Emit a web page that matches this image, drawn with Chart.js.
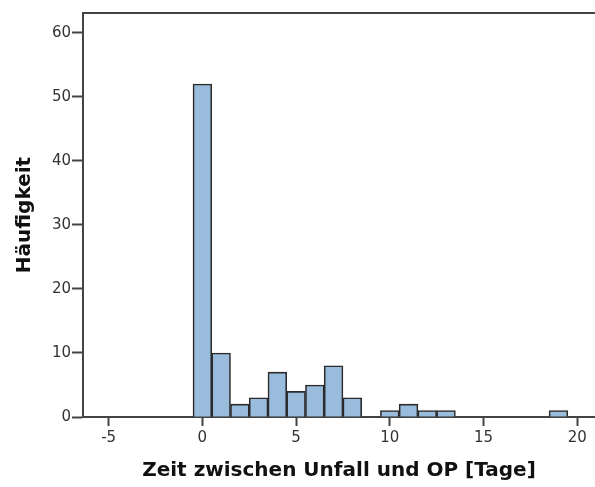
<!DOCTYPE html>
<html>
<head>
<meta charset="utf-8">
<script src="https://cdn.jsdelivr.net/npm/chart.js@4/dist/chart.umd.min.js"></script>
<style>
html,body{margin:0;padding:0;background:#fff;}
#wrap{width:595px;height:487px;}
</style>
</head>
<body>
<div id="wrap"><canvas id="c" width="595" height="487"></canvas></div>
<script>
// Data (bins of width 1 centred on whole days)
const binCentres = [0, 1, 2, 3, 4, 5, 6, 7, 8, 10, 11, 12, 13, 19];
const counts     = [52, 10, 2, 3, 7, 4, 5, 8, 3, 1, 2, 1, 1, 1];
const xTickValues = [-5, 0, 5, 10, 15, 20];
const yTickValues = [0, 10, 20, 30, 40, 50, 60];
const xAxisTitle = 'Zeit zwischen Unfall und OP [Tage]';
const yAxisTitle = 'Häufigkeit';

const points = binCentres.map((x, i) => ({x: x, y: counts[i]}));

const framePlugin = {
  id: 'frame',
  afterDraw(chart) {
    const a = chart.chartArea, ctx = chart.ctx;
    ctx.save();
    ctx.strokeStyle = '#444';
    ctx.lineWidth = 2;
    ctx.beginPath();
    ctx.moveTo(a.left, a.top);
    ctx.lineTo(a.right, a.top);
    ctx.stroke();
    ctx.restore();
  }
};

new Chart(document.getElementById('c'), {
  type: 'bar',
  data: {
    datasets: [{
      data: points,
      backgroundColor: '#99bcdd',
      borderColor: '#2a2a2a',
      borderWidth: 1.6,
      borderSkipped: 'bottom',
      barPercentage: 1,
      categoryPercentage: 1
    }]
  },
  plugins: [framePlugin],
  options: {
    responsive: false,
    animation: false,
    layout: {padding: {top: 13, right: 0, left: 0, bottom: 0}},
    plugins: {legend: {display: false}, tooltip: {enabled: false}},
    scales: {
      x: {
        type: 'linear',
        offset: false,
        min: -6.37,
        max: 20.95,
        afterBuildTicks(s) { s.ticks = xTickValues.map(v => ({value: v})); },
        afterFit(s) { s.height = 70; },
        grid: {display: true, offset: false, drawOnChartArea: false, drawTicks: true, tickLength: 9, tickWidth: 2, tickColor: '#444'},
        border: {display: true, color: '#444', width: 2},
        ticks: {color: '#333', font: {family: 'DejaVu Sans', size: 15}, padding: 3, maxRotation: 0},
        title: {display: true, text: xAxisTitle, color: '#111', font: {family: 'DejaVu Sans', size: 20, weight: 'bold'}, padding: {top: 0, bottom: 4}}
      },
      y: {
        type: 'linear',
        min: 0,
        max: 63.1,
        afterBuildTicks(s) { s.ticks = yTickValues.map(v => ({value: v})); },
        afterFit(s) { s.width = 83; },
        grid: {display: true, drawOnChartArea: false, drawTicks: true, tickLength: 11, tickWidth: 2, tickColor: '#444'},
        border: {display: true, color: '#444', width: 2},
        ticks: {color: '#333', font: {family: 'DejaVu Sans', size: 15}, padding: 1},
        title: {display: true, text: yAxisTitle, color: '#111', font: {family: 'DejaVu Sans', size: 20, weight: 'bold'}, padding: {top: 13, bottom: 0}}
      }
    }
  }
});
</script>
</body>
</html>
